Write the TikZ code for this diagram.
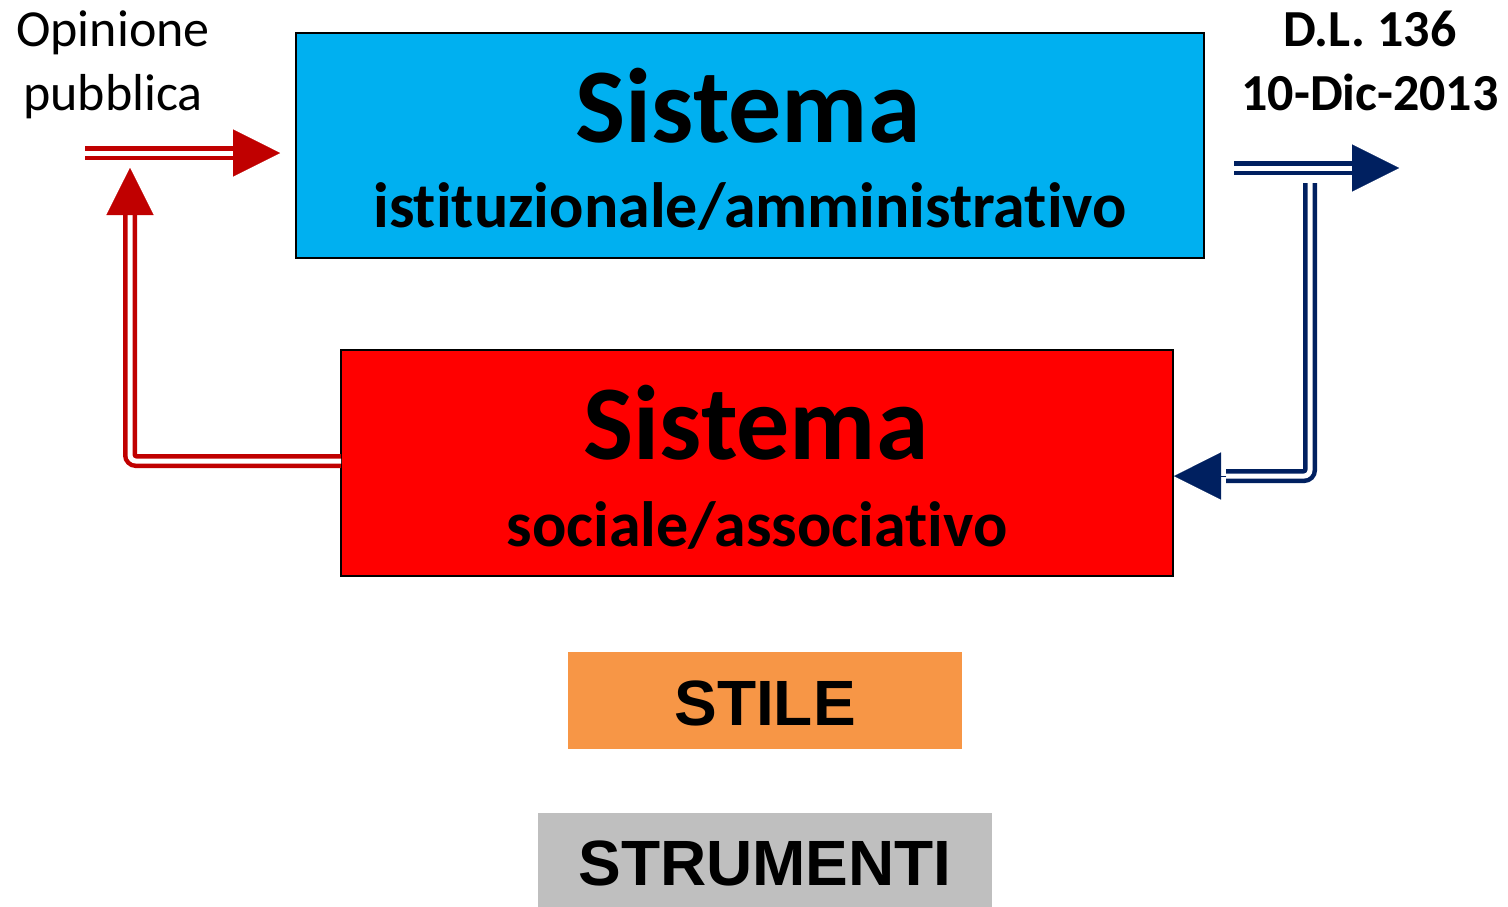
\documentclass[tikz,border=0pt]{standalone}
\usepackage{fontspec}
\setmainfont{Carlito}[Ligatures=NoCommon]
\newfontfamily\arialfont{Liberation Sans}
\usetikzlibrary{arrows.meta}

\definecolor{sysblue}{HTML}{00B0F0}
\definecolor{sysred}{HTML}{FF0000}
\definecolor{stileorange}{HTML}{F79646}
\definecolor{strgray}{HTML}{BFBFBF}
\definecolor{arrred}{HTML}{C00000}
\definecolor{arrnavy}{HTML}{002060}

\tikzset{
  sysbox/.style={draw=black,line width=1pt,inner sep=0pt},
  tagbox/.style={inner sep=0pt},
  dline/.style={draw=#1,double=white,line width=2.25pt,double distance=2.5pt,rounded corners=3pt},
  dtip/.style={draw=#1,fill=#1,line width=0.1pt,-{Triangle[length=23.5pt,width=23.5pt]}},
}

\begin{document}
\begin{tikzpicture}[x=0.5pt,y=-0.5pt]
	\useasboundingbox (0,0) rectangle (1508,906);
	
	% boxes
	\node[sysbox,fill=sysblue,minimum width=454pt,minimum height=112.5pt] (ist) at (750,145.5) {};
	\node[sysbox,fill=sysred,minimum width=416pt,minimum height=113pt] (soc) at (757,463) {};
	\node[tagbox,fill=stileorange,minimum width=197pt,minimum height=48.5pt] (stile) at (765,700.5) {};
	\node[tagbox,fill=strgray,minimum width=227pt,minimum height=47pt] (strum) at (765,860) {};
	
	% texts
	\node[anchor=base,font=\bfseries\fontsize{53}{53}\selectfont] (istA) at (748,142) {Sistema};
	\node[anchor=base,font=\bfseries\fontsize{32}{32}\selectfont] (istB) at (750,227) {istituzionale/amministrativo};
	\node[anchor=base,font=\bfseries\fontsize{53}{53}\selectfont] (socA) at (756,459) {Sistema};
	\node[anchor=base,font=\bfseries\fontsize{32}{32}\selectfont] (socB) at (757,546) {sociale/associativo};
	\node[anchor=base,font=\arialfont\bfseries\fontsize{32}{32}\selectfont] (stileT) at (765,725) {STILE};
	\node[anchor=base,font=\arialfont\bfseries\fontsize{32}{32}\selectfont] (strumT) at (765,885) {STRUMENTI};
	\node[anchor=base,align=center,font=\fontsize{26}{32}\selectfont] (opin) at (113,110) {Opinione\\pubblica};
	\node[anchor=base,align=center,font=\bfseries\fontsize{26}{32}\selectfont] (dl) at (1370,110) {D.L. 136\\10-Dic-2013};
	
	% red arrows
	\coordinate (opS) at (85,153);
	\coordinate (opB) at (238,153);
	\coordinate (opT) at (280,153);
	\coordinate (sL) at (341,461);
	\coordinate (upB) at (130,212);
	\coordinate (upT) at (130,168);
	\draw[dline=arrred] (opS) -- (opB);
	\draw[dtip=arrred] (opB) -- (opT);
	\draw[dline=arrred] (sL) -- (130,461) -- (upB);
	\draw[dtip=arrred] (upB) -- (upT);
	
	% blue arrows
	\coordinate (dlS) at (1234,168);
	\coordinate (dlB) at (1356,168);
	\coordinate (dlT) at (1399,168);
	\coordinate (dnS) at (1310,183);
	\coordinate (bkB) at (1226,476);
	\coordinate (bkT) at (1174,476);
	\draw[dline=arrnavy] (dlS) -- (dlB);
	\draw[dtip=arrnavy] (dlB) -- (dlT);
	\draw[dline=arrnavy] (dnS) -- (1310,476) -- (bkB);
	\draw[dtip=arrnavy] (bkB) -- (bkT);
\end{tikzpicture}
\end{document}
